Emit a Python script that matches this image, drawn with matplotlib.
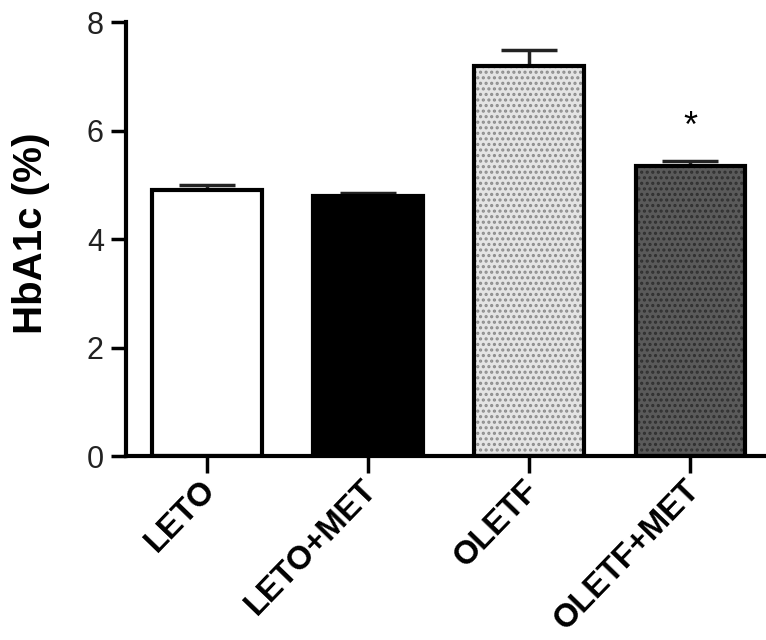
import matplotlib.pyplot as plt

# Data
groups = ['LETO', 'LETO+MET', 'OLETF', 'OLETF+MET']
hba1c = [4.91, 4.80, 7.19, 5.35]
sem = [0.08, 0.05, 0.29, 0.08]
fills = ['white', 'black', '#e4e4e4', '#5a5a5a']
dots = ['', '', '#8c8c8c', '#303030']
star_label = ['', '', '', '*']

plt.rcParams['font.family'] = ['Liberation Sans', 'DejaVu Sans']
plt.rcParams['hatch.linewidth'] = 1.5

fig = plt.figure(figsize=(7.66, 6.4), dpi=100)
ax = fig.add_axes([0.1645, 0.2875, 0.8355, 0.678])

x = range(len(groups))

# error bars (upper only)
ax.errorbar(x, hba1c, yerr=[[0] * len(sem), sem], fmt='none', ecolor='#222222',
            elinewidth=2.5, capsize=20, capthick=2.5, zorder=1)

# bar fill
ax.bar(x, hba1c, width=0.68, color=fills, edgecolor='none', zorder=2)
# dotted texture for OLETF groups
for i in x:
    if dots[i]:
        ax.bar(i, hba1c[i], width=0.68, facecolor='none', edgecolor=dots[i],
               hatch='...', linewidth=0, zorder=3)
# outlines
ax.bar(x, hba1c, width=0.68, facecolor='none', edgecolor='black', linewidth=3, zorder=4)

for i in x:
    if star_label[i]:
        ax.text(i, hba1c[i] + sem[i] + 0.62, star_label[i], ha='center', va='center',
                fontsize=26)

ax.set_xlim(-0.503, 3.47)
ax.set_ylim(0, 8)
ax.set_yticks([0, 2, 4, 6, 8])
ax.set_xticks(list(x))
ax.set_xticklabels([])
# rotated group labels, anchored just under each tick
for i, g in zip(x, groups):
    ax.annotate(g, xy=(i, 0), xycoords=('data', 'axes fraction'),
                xytext=(-5, -13), textcoords='offset points',
                rotation=46, ha='right', va='top', rotation_mode='anchor',
                fontsize=23.5, fontweight='bold')
ax.tick_params(axis='y', labelsize=22, width=2.5, length=11, labelcolor='#222222', pad=5)
ax.tick_params(axis='x', width=2.5, length=12)

for s in ['top', 'right']:
    ax.spines[s].set_visible(False)
for s in ['left', 'bottom']:
    ax.spines[s].set_linewidth(3)

ax.set_ylabel('HbA1c (%)', fontsize=29, fontweight='bold')
ax.yaxis.set_label_coords(-0.118, 0.514)

fig.savefig('out.png', dpi=100)
